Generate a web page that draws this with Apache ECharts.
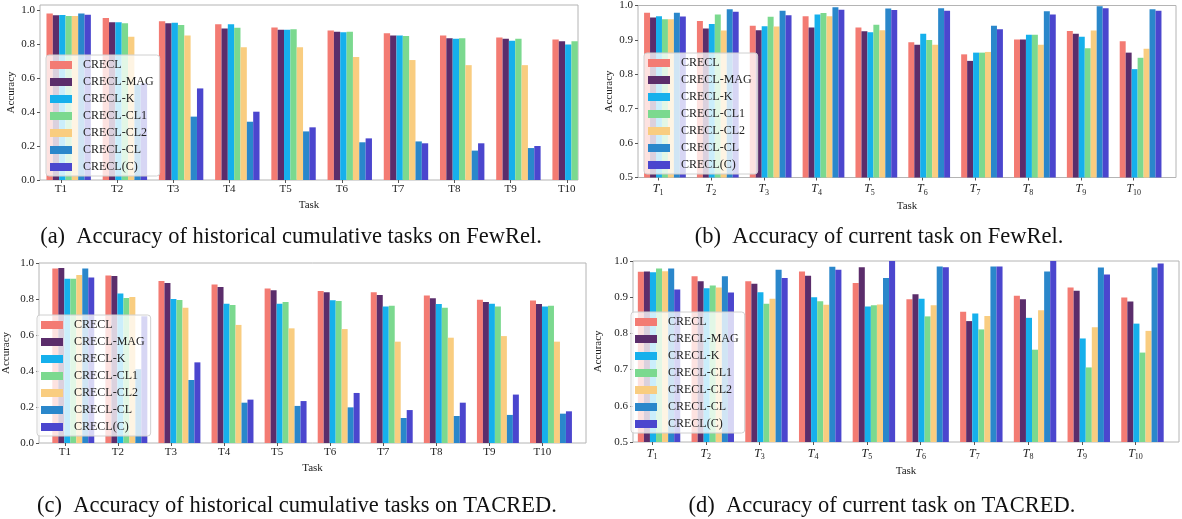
<!DOCTYPE html>
<html><head><meta charset="utf-8">
<script src="https://cdn.jsdelivr.net/npm/echarts@6/dist/echarts.min.js"></script>
<style>html,body{margin:0;padding:0;background:#fff}#c{width:1182px;height:519px}</style>
</head><body><div id="c"></div>
<script>
const tasks = ['1','2','3','4','5','6','7','8','9','10'];
const seriesNames = ['CRECL','CRECL-MAG','CRECL-K','CRECL-CL1','CRECL-CL2','CRECL-CL','CRECL(C)'];
const colors = ['#f37b73','#5b2d6b','#16b0ec','#7bd98f','#f9cd80','#2a87cb','#4b46ce'];
const yTicksFull = [0,0.2,0.4,0.6,0.8,1.0];
const yTicksHigh = [0.5,0.6,0.7,0.8,0.9,1.0];

// (a) historical cumulative, FewRel
const a_CRECL = [0.980,0.953,0.935,0.916,0.898,0.880,0.863,0.851,0.839,0.827];
const a_MAG   = [0.969,0.929,0.922,0.892,0.884,0.873,0.851,0.835,0.831,0.816];
const a_K     = [0.971,0.929,0.925,0.916,0.884,0.869,0.851,0.831,0.820,0.798];
const a_CL1   = [0.965,0.922,0.912,0.896,0.888,0.873,0.847,0.835,0.831,0.816];
const a_CL2   = [0.965,0.843,0.851,0.782,0.782,0.724,0.706,0.676,0.676,null];
const a_CL    = [0.980,0.560,0.373,0.343,0.286,0.222,0.227,0.173,0.188,null];
const a_C     = [0.973,0.570,0.539,0.402,0.310,0.245,0.216,0.216,0.200,null];
// (b) current task, FewRel
const b_CRECL = [0.979,0.955,0.941,0.969,0.936,0.893,0.858,0.901,0.926,0.896];
const b_MAG   = [0.965,0.933,0.928,0.936,0.925,0.886,0.839,0.901,0.918,0.863];
const b_K     = [0.969,0.946,0.940,0.974,0.922,0.918,0.863,0.915,0.909,0.815];
const b_CL1   = [0.960,0.974,0.967,0.978,0.944,0.900,0.863,0.915,0.876,0.848];
const b_CL2   = [0.960,0.927,0.939,0.969,0.928,0.886,0.865,0.886,0.927,0.874];
const b_CL    = [0.979,0.989,0.985,0.995,0.991,0.992,0.941,0.983,0.998,0.989];
const b_C     = [0.968,0.982,0.972,0.988,0.987,0.985,0.931,0.974,0.992,0.985];
// (c) historical cumulative, TACRED
const c_CRECL = [0.969,0.931,0.900,0.881,0.859,0.844,0.837,0.819,0.796,0.791];
const c_MAG   = [0.972,0.928,0.889,0.867,0.848,0.837,0.822,0.804,0.783,0.772];
const c_K     = [0.913,0.830,0.800,0.774,0.774,0.793,0.759,0.772,0.774,0.759];
const c_CL1   = [0.913,0.806,0.794,0.767,0.783,0.789,0.763,0.752,0.759,0.763];
const c_CL2   = [0.933,0.811,0.752,0.656,0.637,0.633,0.563,0.585,0.594,0.563];
const c_CL    = [0.969,0.410,0.350,0.224,0.206,0.198,0.139,0.150,0.156,0.163];
const c_C     = [0.920,0.704,0.448,0.241,0.233,0.278,0.183,0.224,0.269,0.176];
// (d) current task, TACRED
const d_CRECL = [0.970,0.958,0.944,0.971,0.939,0.894,0.860,0.904,0.927,0.899];
const d_MAG   = [0.971,0.944,0.937,0.959,0.983,0.908,0.834,0.894,0.918,0.888];
const d_K     = [0.969,0.925,0.914,0.900,0.874,0.896,0.855,0.843,0.786,0.827];
const d_CL1   = [0.979,0.932,0.882,0.889,0.878,0.847,0.811,0.755,0.706,0.747];
const d_CL2   = [0.972,0.927,0.896,0.879,0.880,0.878,0.848,0.864,0.817,0.807];
const d_CL    = [0.979,0.958,0.976,0.984,0.953,0.985,0.985,0.971,0.982,0.982];
const d_C     = [0.921,0.913,0.953,0.976,1.000,0.983,0.985,1.000,0.963,0.993];

const panels = [
  {data:[a_CRECL,a_MAG,a_K,a_CL1,a_CL2,a_CL,a_C], grid:{left:40,top:5,width:538,height:175}, x:[-0.51,9.06], y:[0,1.03], yt:yTicksFull, shift:0.14, italic:false, xGap:20, yGap:23, legend:{left:46,top:55}},
  {data:[b_CRECL,b_MAG,b_K,b_CL1,b_CL2,b_CL,b_C], grid:{left:638,top:3,width:538,height:174.5}, x:[-0.51,9.67], y:[0.5,1.0], yt:yTicksHigh, shift:0.13, italic:true, xGap:23, yGap:23, legend:{left:644,top:53}},
  {data:[c_CRECL,c_MAG,c_K,c_CL1,c_CL2,c_CL,c_C], grid:{left:31,top:263,width:555,height:180}, x:[-0.646,9.66], y:[0,1.0], yt:yTicksFull, shift:0.16, italic:false, xGap:20, yGap:27, legend:{left:37,top:315}},
  {data:[d_CRECL,d_MAG,d_K,d_CL1,d_CL2,d_CL,d_C], grid:{left:633,top:261,width:546,height:181}, x:[-0.485,9.68], y:[0.5,1.0], yt:yTicksHigh, shift:0.13, italic:true, xGap:24, yGap:29, legend:{left:631,top:312}}
];

const FONT = 'Liberation Serif';
const grids=[], xAxes=[], yAxes=[], series=[], legends=[];
panels.forEach((p, pi) => {
  grids.push(Object.assign({show:true, borderColor:'#b4b4b4', borderWidth:1, containLabel:false}, p.grid));
  const labelVals = tasks.map((t,i)=>i - p.shift);
  xAxes.push({
    type:'value', gridIndex:pi, min:p.x[0], max:p.x[1], position:'bottom',
    name:'Task', nameLocation:'middle', nameGap:p.xGap,
    nameTextStyle:{fontFamily:FONT, fontSize:11, color:'#222'},
    axisLine:{show:false, onZero:false}, splitLine:{show:false},
    axisTick:{show:true, length:3, lineStyle:{color:'#555'}, customValues:labelVals},
    axisLabel:{customValues:labelVals, margin:4, fontFamily:FONT, fontSize:11, color:'#222',
      formatter:(v)=>{ const t = tasks[Math.round(v + p.shift)];
        return p.italic ? '{t|T}{s|' + t + '}' : 'T' + t; },
      rich:{t:{fontFamily:FONT, fontStyle:'italic', fontSize:12, color:'#222'},
            s:{fontFamily:FONT, fontSize:8, color:'#222', padding:[7,0,0,0]}}}
  });
  yAxes.push({
    type:'value', gridIndex:pi, min:p.y[0], max:p.y[1], position:'left',
    name:'Accuracy', nameLocation:'middle', nameGap:p.yGap,
    nameTextStyle:{fontFamily:FONT, fontSize:11, color:'#222'},
    axisLine:{show:false, onZero:false}, splitLine:{show:false},
    axisTick:{show:true, length:3, lineStyle:{color:'#555'}, customValues:p.yt},
    axisLabel:{customValues:p.yt, margin:5, fontFamily:FONT, fontSize:11, color:'#222', formatter:(v)=>v.toFixed(1)}
  });
  seriesNames.forEach((n, si) => {
    series.push({
      type:'bar', name:n, xAxisIndex:pi, yAxisIndex:pi,
      data:p.data[si].map((v,i)=>[i,v]),
      barGap:'0%', barCategoryGap:'21%', clip:true,
      itemStyle:{color:colors[si]}, emphasis:{disabled:true}, animation:false
    });
  });
  legends.push({
    show:true, orient:'vertical', left:p.legend.left, top:p.legend.top,
    data:seriesNames, itemWidth:22, itemHeight:8, itemGap:5,
    backgroundColor:'rgba(255,255,255,0.78)', borderColor:'#d0d0d0', borderWidth:1, borderRadius:3,
    padding:[4,6,3,4], icon:'rect', selectedMode:false,
    textStyle:{fontFamily:FONT, fontSize:12, color:'#222', padding:[0,0,0,6]}
  });
});

const captions = [
  {text:'(a)  Accuracy of historical cumulative tasks on FewRel.', x:291, y:237},
  {text:'(b)  Accuracy of current task on FewRel.', x:879, y:237},
  {text:'(c)  Accuracy of historical cumulative tasks on TACRED.', x:297, y:506},
  {text:'(d)  Accuracy of current task on TACRED.', x:882, y:506}
];

const chart = echarts.init(document.getElementById('c'), null, {renderer:'canvas'});
chart.setOption({
  animation:false, color:colors,
  grid:grids, xAxis:xAxes, yAxis:yAxes, series:series, legend:legends,
  graphic:captions.map(c=>({type:'text', x:c.x, y:c.y,
    style:{text:c.text, fontFamily:FONT, fontSize:22.5, fill:'#111', textAlign:'center', textVerticalAlign:'middle'}}))
});
</script></body></html>
